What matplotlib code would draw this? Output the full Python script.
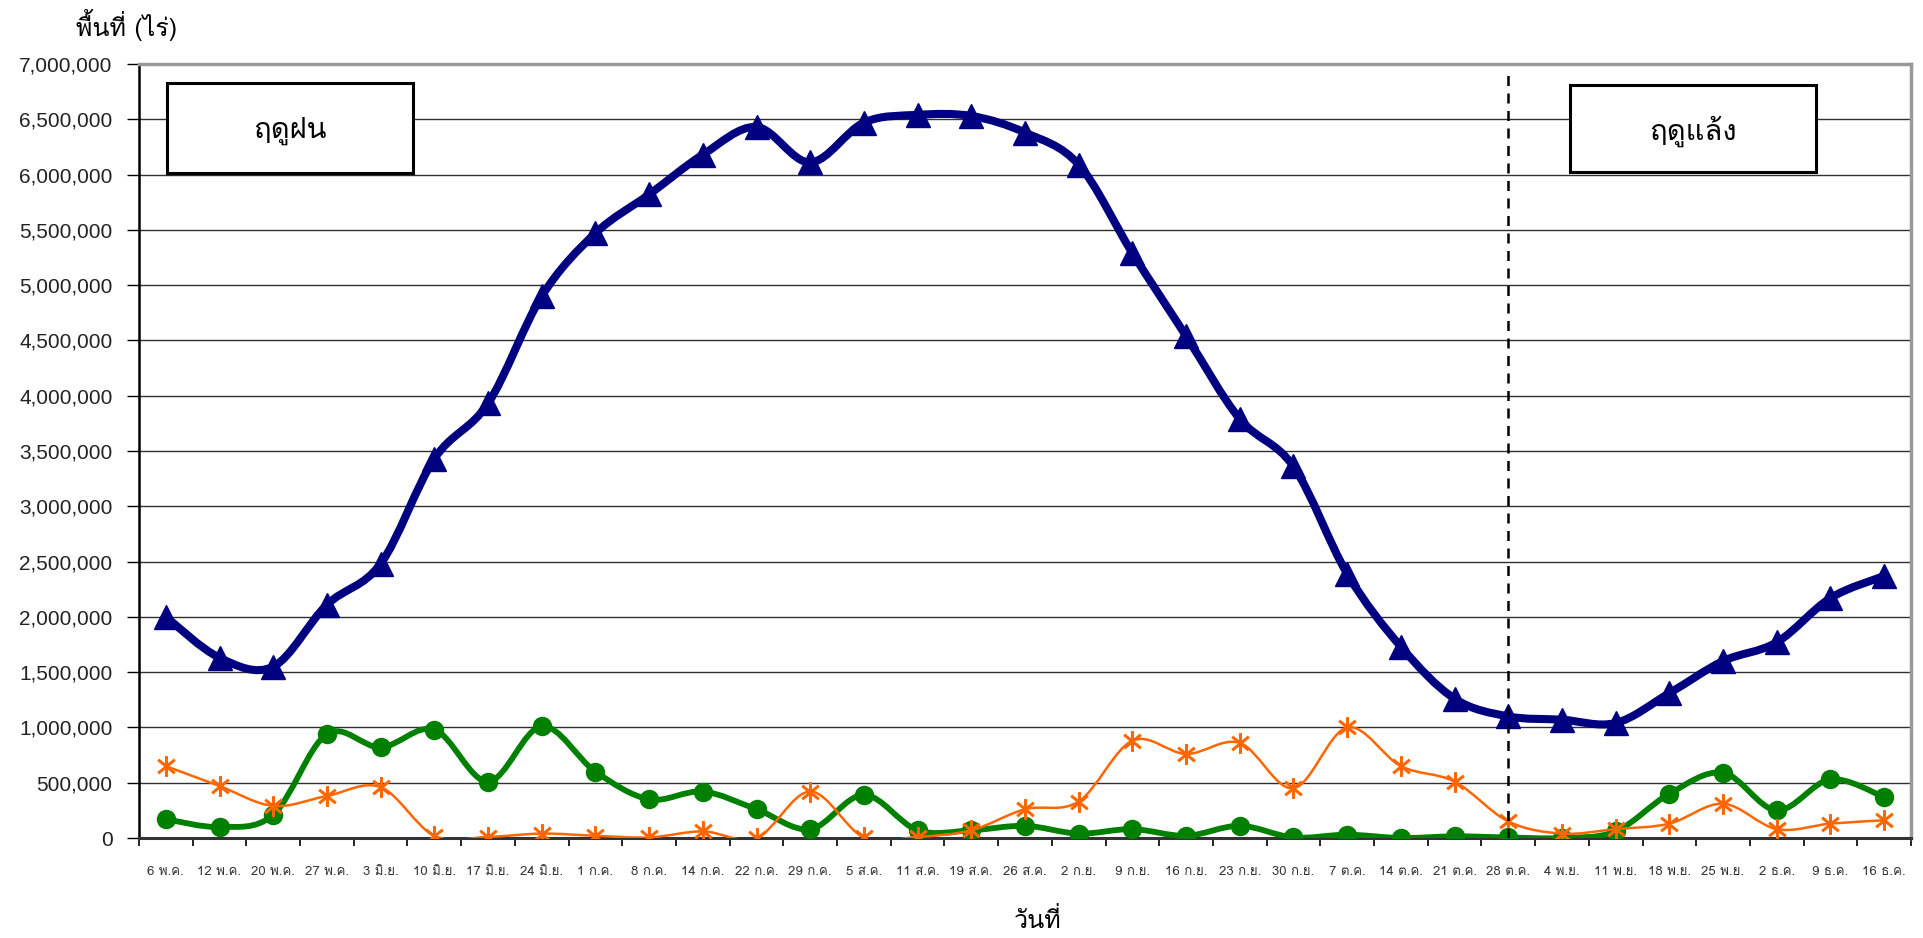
import matplotlib
matplotlib.use("Agg")
import matplotlib.pyplot as plt
import numpy as np
from matplotlib import font_manager
from matplotlib.path import Path
from matplotlib.patches import PathPatch, Rectangle
from matplotlib.ticker import FuncFormatter, MultipleLocator

# วันที่ (แกน x)
dates = ["6 พ.ค.", "12 พ.ค.", "20 พ.ค.", "27 พ.ค.", "3 มิ.ย.", "10 มิ.ย.", "17 มิ.ย.",
         "24 มิ.ย.", "1 ก.ค.", "8 ก.ค.", "14 ก.ค.", "22 ก.ค.", "29 ก.ค.", "5 ส.ค.",
         "11 ส.ค.", "19 ส.ค.", "26 ส.ค.", "2 ก.ย.", "9 ก.ย.", "16 ก.ย.", "23 ก.ย.",
         "30 ก.ย.", "7 ต.ค.", "14 ต.ค.", "21 ต.ค.", "28 ต.ค.", "4 พ.ย.", "11 พ.ย.",
         "18 พ.ย.", "25 พ.ย.", "2 ธ.ค.", "9 ธ.ค.", "16 ธ.ค."]

# พื้นที่ (ไร่) อ่านค่าจากกราฟ
area_blue = [2000000, 1630000, 1550000, 2110000, 2480000, 3430000, 3930000,
             4900000, 5470000, 5820000, 6180000, 6430000, 6110000, 6470000,
             6540000, 6530000, 6380000, 6090000, 5290000, 4540000, 3790000,
             3360000, 2390000, 1730000, 1260000, 1100000, 1070000, 1040000,
             1310000, 1600000, 1770000, 2170000, 2370000]
area_green = [170000, 100000, 210000, 940000, 820000, 980000, 510000,
              1010000, 600000, 350000, 420000, 260000, 80000, 390000,
              70000, 70000, 110000, 40000, 80000, 20000, 110000,
              5000, 30000, 0, 15000, 5000, 0, 60000,
              400000, 590000, 250000, 530000, 370000]
area_orange = [650000, 470000, 290000, 380000, 460000, 20000, 10000,
               40000, 20000, 5000, 60000, 0, 420000, 5000,
               10000, 70000, 260000, 330000, 880000, 760000, 860000,
               450000, 1000000, 650000, 510000, 150000, 40000, 80000,
               130000, 310000, 80000, 130000, 160000]

season_rain = "ฤดูฝน"
season_dry = "ฤดูแล้ง"
split_date = "28 ต.ค."
y_title = "พื้นที่ (ไร่)"
x_title = "วันที่"

# ฟอนต์ไทย: Loma (มีวรรณยุกต์ตัวต่ำใน PUA) ถ้าไม่มีใช้ตัวอื่น
have = {f.name for f in font_manager.fontManager.ttflist}
thai = "Loma" if "Loma" in have else "Noto Sans Thai Looped"
TH = [thai, "DejaVu Sans"]

UPPER = {"\u0e31", "\u0e34", "\u0e35", "\u0e36", "\u0e37", "\u0e47", "\u0e4d"}


def th(s):
    # matplotlib ไม่จัดวางสระ/วรรณยุกต์ให้ จึงเปลี่ยนวรรณยุกต์ที่ไม่มีสระบนเป็นตัวต่ำเอง
    if thai != "Loma":
        return s
    out = []
    for i, c in enumerate(s):
        if "\u0e48" <= c <= "\u0e4c" and not (i > 0 and s[i - 1] in UPPER):
            c = chr(0xF70A + ord(c) - 0x0E48)
        out.append(c)
    return "".join(out)


def smooth_path(xs, ys):
    # เส้นโค้งแบบ smooth line ของ Excel (Catmull-Rom -> Bezier)
    pts = np.column_stack([xs, ys]).astype(float)
    verts = [pts[0]]
    codes = [Path.MOVETO]
    n = len(pts)
    for i in range(n - 1):
        p0 = pts[max(i - 1, 0)]
        p1 = pts[i]
        p2 = pts[i + 1]
        p3 = pts[min(i + 2, n - 1)]
        verts += [p1 + (p2 - p0) / 6.0, p2 - (p3 - p1) / 6.0, p2]
        codes += [Path.CURVE4] * 3
    return Path(verts, codes)


fig = plt.figure(figsize=(19.24, 9.38), dpi=100)
ax = fig.add_axes([139 / 1924, 1 - 838 / 938, 1772 / 1924, 774 / 938])

x = np.arange(len(dates))

# asterisk marker แบบ Excel
star = Path([(0, -1), (0, 1), (-0.8, -0.65), (0.8, 0.65), (-0.8, 0.65), (0.8, -0.65)],
            [Path.MOVETO, Path.LINETO] * 3)

series = [
    (area_blue, "#000080", 5.8, "^", 17, 2),
    (area_green, "#008000", 4.2, "o", 13, 3),
    (area_orange, "#FF6600", 1.8, star, 15, 4),
]
for vals, col, lw, mk, ms, z in series:
    ax.add_patch(PathPatch(smooth_path(x, vals), fill=False, edgecolor=col, lw=lw,
                           capstyle="round", joinstyle="round", zorder=z))
    if mk is star:
        ax.plot(x, vals, ls="none", marker=mk, ms=ms, mec=col, mew=2.2, zorder=z + 0.5)
    else:
        ax.plot(x, vals, ls="none", marker=mk, ms=ms, mfc=col, mec=col, zorder=z + 0.5)

ax.set_xlim(-0.5, len(dates) - 0.5)
ax.set_ylim(0, 7000000)
ax.yaxis.set_major_locator(MultipleLocator(500000))
ax.yaxis.set_major_formatter(FuncFormatter(lambda v, p: f"{int(v):,}"))
ax.grid(axis="y", color="#303030", lw=1.0, zorder=0)

ax.set_xticks(x)
ax.set_xticklabels([th(d) for d in dates], family=TH, fontsize=9.5, color="#333333")
ax.set_xticks(np.arange(-0.5, len(dates)), minor=True)
ax.tick_params(axis="x", which="major", length=0, pad=20)
ax.tick_params(axis="x", which="minor", length=6, width=1.2, color="#000000")
ax.tick_params(axis="y", length=9, width=1, pad=10, labelsize=15, labelcolor="#222222")
for t in ax.get_yticklabels():
    t.set_family("Liberation Sans")

for s in ["top", "right"]:
    ax.spines[s].set_color("#999999")
    ax.spines[s].set_linewidth(2.5)
ax.spines["left"].set_color("#000000")
ax.spines["left"].set_linewidth(1.8)
ax.spines["bottom"].set_color("#333333")
ax.spines["bottom"].set_linewidth(2.2)

# เส้นแบ่งฤดู
xi = dates.index(split_date)
ax.axvline(xi, ymin=0, ymax=0.99, color="#000000", lw=1.8, ls=(0, (4, 3)), zorder=5)

# กล่องข้อความฤดู
for (l, t, r, b), txt in [((167, 83, 413, 173), season_rain), ((1570, 85, 1816, 172), season_dry)]:
    fig.patches.append(Rectangle((l / 1924, 1 - b / 938), (r - l) / 1924, (b - t) / 938,
                                 transform=fig.transFigure, fc="white", ec="#000000",
                                 lw=2.2, zorder=10))
    fig.text((l + r) / 2 / 1924, 1 - (t + b + 6) / 2 / 938, th(txt), family=TH, fontsize=21,
             ha="center", va="center", zorder=11)

fig.text(127 / 1924, 1 - 25 / 938, th(y_title), family=TH, fontsize=18,
         ha="center", va="center")
fig.text(1038 / 1924, 1 - 920 / 938, th(x_title), family=TH, fontsize=18,
         ha="center", va="center")

fig.savefig("out.png", dpi=100, facecolor="white")
